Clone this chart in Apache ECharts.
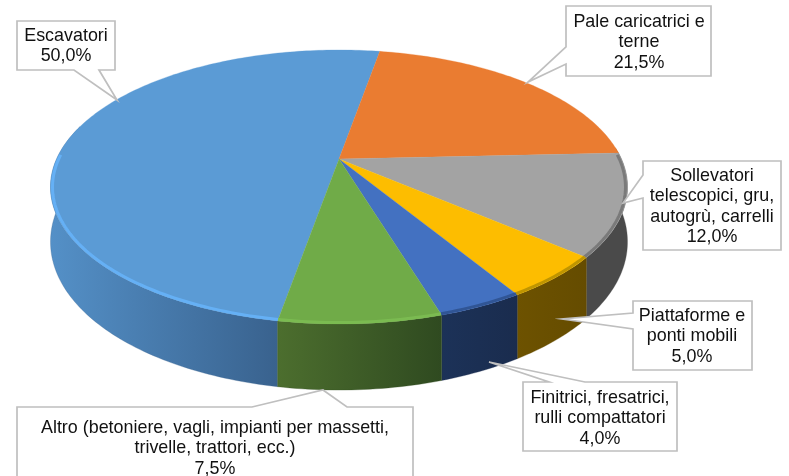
<!DOCTYPE html>
<html>
<head>
<meta charset="utf-8">
<style>html,body{margin:0;padding:0;background:#fff}#c{width:789px;height:476px;filter:blur(0.5px)}</style>
<script src="https://cdn.jsdelivr.net/npm/echarts@6/dist/echarts.min.js"></script>
</head>
<body>
<div id="c"></div>
<script>
// ---- data ----
var categories = ['Escavatori', 'Pale caricatrici e terne', 'Sollevatori telescopici, gru, autogrù, carrelli', 'Piattaforme e ponti mobili', 'Finitrici, fresatrici, rulli compattatori', 'Altro (betoniere, vagli, impianti per massetti, trivelle, trattori, ecc.)'];
var labelLines = [['Escavatori'], ['Pale caricatrici e', 'terne'], ['Sollevatori', 'telescopici, gru,', 'autogrù, carrelli'], ['Piattaforme e', 'ponti mobili'], ['Finitrici, fresatrici,', 'rulli compattatori'], ['Altro (betoniere, vagli, impianti per massetti,', 'trivelle, trattori, ecc.)']];
var values = [50.0, 21.5, 12.0, 5.0, 4.0, 7.5];

// ---- style ----
var topColors = ['#5b9bd5', '#ea7c31', '#a3a3a3', '#fdbd00', '#4371c1', '#70ab48'];
var rimColors = ['#66b2f8', '#ea7c31', '#767676', '#b89000', '#2f5290', '#7cbc52'];
var wallStops = [
  ['#5490c7', '#39628e'], ['#a8571f', '#a8571f'], ['#4a4a4a', '#4a4a4a'],
  ['#6d5200', '#654c00'], ['#1c3258', '#1a2c4e'], ['#4c6e2e', '#2f4a20']
];

// ---- layout: projection of the pie disc ----
var CX = 339, CY = 159, A = 282.4, B = 131.3, K = 0.2045, START_DEG = 190;
var ELLIPSE_CY = 187;
var WALL_BASE = 52, WALL_GROW = 14;
function rimTop(deg) {
  var t = deg * Math.PI / 180, X = Math.sin(t), Y = -Math.cos(t), d = 1 - K * Y;
  return [CX + A * X / d, CY + B * Y / d, Y];
}
function rimLow(deg) {
  var p = rimTop(deg);
  return [p[0], p[1] + WALL_BASE + WALL_GROW * p[2]];
}
var total = values.reduce(function (a, b) { return a + b; }, 0);
var spans = [], acc = START_DEG;
values.forEach(function (v) {
  var s = v / total * 360;
  spans.push([acc, acc + s]);
  acc += s;
});
function arc(a0, a1, fn) {
  var out = [], n = Math.max(2, Math.ceil(Math.abs(a1 - a0)));
  for (var i = 0; i <= n; i++) {
    out.push(fn(a0 + (a1 - a0) * i / n).slice(0, 2));
  }
  return out;
}
// part of a slice's rim inside the given front range of the revolution
function clipRange(i, lo, hi) {
  var s = spans[i], found = null;
  [[lo, hi], [lo + 360, hi + 360]].forEach(function (r) {
    var a = Math.max(s[0], r[0]), b = Math.min(s[1], r[1]);
    if (b > a && !found) found = [a, b];
  });
  return found;
}

// ---- layout: callouts ----
var callouts = [
  {box: [17, 21, 115, 70], side: 'b', w: [74, 99], tip: [117, 100], cx: 66, y: 36},
  {box: [566, 6, 711, 76], side: 'l', w: [47, 64], tip: [528, 82], cx: 639, y: 22},
  {box: [643, 161, 781, 250], side: 'l', w: [175, 198], tip: [623, 203], cx: 712, y: 176},
  {box: [633, 301, 752, 370], side: 'l', w: [313, 329], tip: [562, 319], cx: 692, y: 316},
  {box: [523, 382, 677, 451], side: 't', w: [549, 585], tip: [489, 362], cx: 600, y: 398},
  {box: [17, 407, 413, 482], side: 't', w: [252, 347], tip: [323, 390], cx: 215, y: 428}
];
var LINE_H = 20.4;
function fmt(v) { return v.toFixed(1).replace('.', ',') + '%'; }
function bubble(c) {
  var b = c.box, L = b[0], T = b[1], R = b[2], D = b[3], w = c.w, t = c.tip;
  if (c.side === 'b') return [[L, T], [R, T], [R, D], [w[1], D], t, [w[0], D], [L, D]];
  if (c.side === 'l') return [[L, T], [R, T], [R, D], [L, D], [L, w[1]], t, [L, w[0]]];
  return [[L, T], [w[0], T], t, [w[1], T], [R, T], [R, D], [L, D]];
}

var seriesData = values.map(function (v) { return [v]; });

function renderWall(params) {
  var i = params.dataIndex, r = clipRange(i, 85, 285);
  if (!r) return {type: 'group', children: []};
  var upper = arc(r[0], r[1], rimTop), lower = arc(r[0], r[1], rimLow).reverse();
  var xs = upper.map(function (p) { return p[0]; });
  var x0 = Math.min.apply(null, xs), x1 = Math.max.apply(null, xs);
  return {
    type: 'polygon',
    shape: {points: upper.concat(lower)},
    style: {
      fill: new echarts.graphic.LinearGradient(x0, 0, x1 + 0.01, 0, [
        {offset: 0, color: wallStops[i][0]}, {offset: 1, color: wallStops[i][1]}
      ], true),
      stroke: wallStops[i][1], lineWidth: 0.3
    }
  };
}
function renderTop(params) {
  var i = params.dataIndex, s = spans[i];
  return {
    type: 'polygon',
    shape: {points: [[CX, CY]].concat(arc(s[0], s[1], rimTop))},
    style: {fill: topColors[i], stroke: topColors[i], lineWidth: 0.3}
  };
}
function renderRim(params) {
  var i = params.dataIndex, r = clipRange(i, 88, 272);
  if (!r) return {type: 'group', children: []};
  return {
    type: 'polyline',
    shape: {points: arc(r[0], r[1], function (d) {
      var p = rimTop(d);
      return [p[0] + (CX - p[0]) * 0.007, p[1] + (ELLIPSE_CY - p[1]) * 0.011];
    })},
    style: {fill: 'none', stroke: rimColors[i], lineWidth: 3, opacity: 0.9}
  };
}
function renderLabel(params) {
  var i = params.dataIndex, c = callouts[i];
  var lines = labelLines[i].concat([fmt(values[i])]);
  var children = [{
    type: 'polygon',
    shape: {points: bubble(c)},
    style: {fill: '#fff', stroke: '#bfbfbf', lineWidth: 1.7}
  }];
  lines.forEach(function (t, k) {
    children.push({
      type: 'text',
      x: c.cx, y: c.y + k * LINE_H,
      style: {text: t, fill: '#111', font: '17.9px "Liberation Sans", Arial, sans-serif', align: 'center', verticalAlign: 'middle'}
    });
  });
  return {type: 'group', children: children};
}
function customSeries(fn, z, name) {
  return {
    type: 'custom', name: name, coordinateSystem: 'none', z: z, silent: true,
    animation: false, clip: false, data: seriesData, renderItem: fn
  };
}

var chart = echarts.init(document.getElementById('c'), null, {renderer: 'canvas', width: 789, height: 476});
chart.setOption({
  animation: false,
  backgroundColor: '#fff',
  series: [
    customSeries(renderWall, 1, 'walls'),
    customSeries(renderTop, 2, 'tops'),
    customSeries(renderRim, 3, 'rims'),
    customSeries(renderLabel, 4, 'labels')
  ]
});
</script>
</body>
</html>
